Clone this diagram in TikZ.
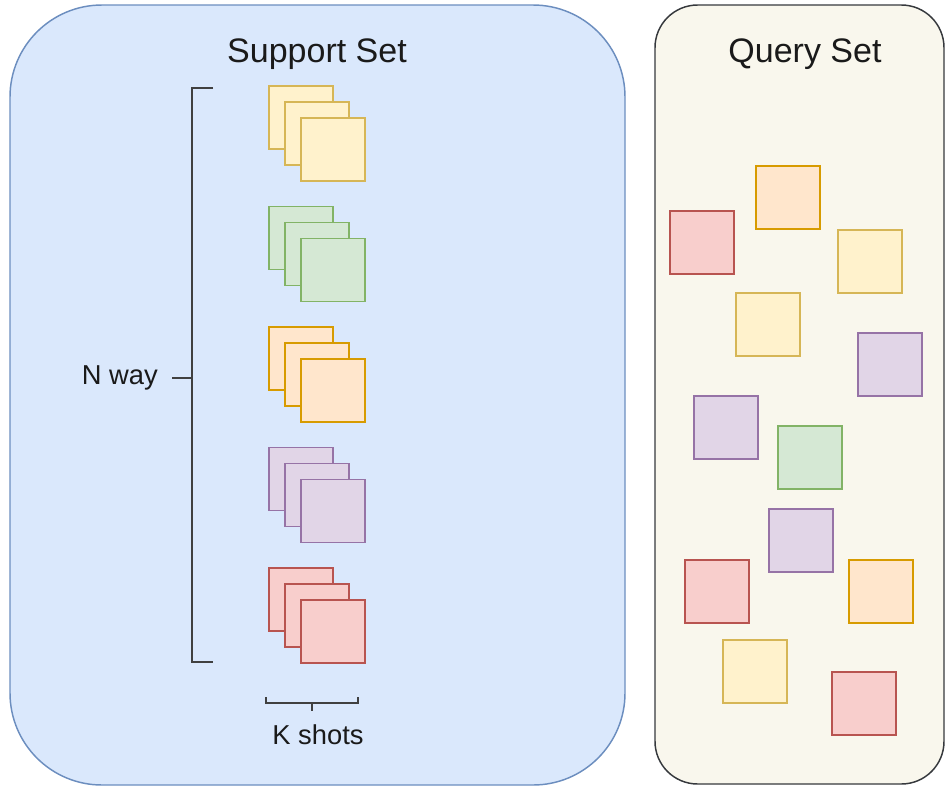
\documentclass[tikz,border=0pt]{standalone}
\usepackage{fontspec}
\setmainfont{Liberation Sans}

\definecolor{supF}{HTML}{DAE8FC}
\definecolor{supD}{HTML}{6C8EBF}
\definecolor{qryF}{HTML}{F9F7ED}
\definecolor{qryD}{HTML}{36393D}
\definecolor{yelF}{HTML}{FFF2CC}
\definecolor{yelD}{HTML}{D6B656}
\definecolor{grnF}{HTML}{D5E8D4}
\definecolor{grnD}{HTML}{82B366}
\definecolor{orgF}{HTML}{FFE6CC}
\definecolor{orgD}{HTML}{D79B00}
\definecolor{purF}{HTML}{E1D5E7}
\definecolor{purD}{HTML}{9673A6}
\definecolor{redF}{HTML}{F8CECC}
\definecolor{redD}{HTML}{B85450}
\definecolor{txt}{HTML}{1A1A1A}

\tikzset{
  card/.style={line width=1pt},
  brace/.style={line width=1.4pt, draw=black!75},
  title/.style={font=\fontsize{25.5}{30}\selectfont, text=txt, inner sep=0pt},
  lbl/.style={font=\fontsize{20.5}{24}\selectfont, text=txt, inner sep=0pt}
}

\begin{document}
\begin{tikzpicture}[x=0.75pt, y=-0.75pt]
        \useasboundingbox (0,0) rectangle (945,786);

        % ==========================================
        % Support Set
        % ==========================================
        \draw[fill=supF, draw=supD, line width=1.1pt, rounded corners=69pt] (10,5) rectangle (625,785);
        \node[title] (suptitle) at (317,54) {Support Set};

        % pilas de tarjetas (N clases, K tarjetas)
        \foreach \col [count=\i from 0] in {yel,grn,org,pur,red} {
            \draw[card, fill=\col F, draw=\col D] (269,86+120.5*\i) rectangle ++(64,63);
            \draw[card, fill=\col F, draw=\col D] (285,102+120.5*\i) rectangle ++(64,63);
            \draw[card, fill=\col F, draw=\col D] (301,118+120.5*\i) rectangle ++(64,63);
        }

        % Llave N way
        \draw[brace] (213,88) -- (192,88) -- (192,662) -- (213,662);
        \coordinate (nmid) at (192,378);
        \node[lbl, anchor=east] (nway) at (158,378) {N way};
        \draw[brace] (nway.east) ++(14,0) -- (nmid);

        % Llave K shots
        \draw[brace] (266,697) -- (266,703) -- (358,703) -- (358,697);
        \coordinate (kmid) at (312,703);
        \node[lbl] (kshots) at (318,735) {K shots};
        \draw[brace] (kmid) -- ++(0,8);

        % ==========================================
        % Query Set
        % ==========================================
        \draw[fill=qryF, draw=qryD, line width=1.1pt, rounded corners=32pt] (655,5) rectangle (944,784);
        \node[title] (qrytitle) at (805,54) {Query Set};

        % tarjetas sueltas
        \draw[card, fill=redF, draw=redD] (670,211) rectangle ++(64,63);
        \draw[card, fill=orgF, draw=orgD] (756,166) rectangle ++(64,63);
        \draw[card, fill=yelF, draw=yelD] (838,230) rectangle ++(64,63);
        \draw[card, fill=yelF, draw=yelD] (736,293) rectangle ++(64,63);
        \draw[card, fill=purF, draw=purD] (858,333) rectangle ++(64,63);
        \draw[card, fill=purF, draw=purD] (694,396) rectangle ++(64,63);
        \draw[card, fill=grnF, draw=grnD] (778,426) rectangle ++(64,63);
        \draw[card, fill=purF, draw=purD] (769,509) rectangle ++(64,63);
        \draw[card, fill=redF, draw=redD] (685,560) rectangle ++(64,63);
        \draw[card, fill=orgF, draw=orgD] (849,560) rectangle ++(64,63);
        \draw[card, fill=yelF, draw=yelD] (723,640) rectangle ++(64,63);
        \draw[card, fill=redF, draw=redD] (832,672) rectangle ++(64,63);

    \end{tikzpicture}
\end{document}
